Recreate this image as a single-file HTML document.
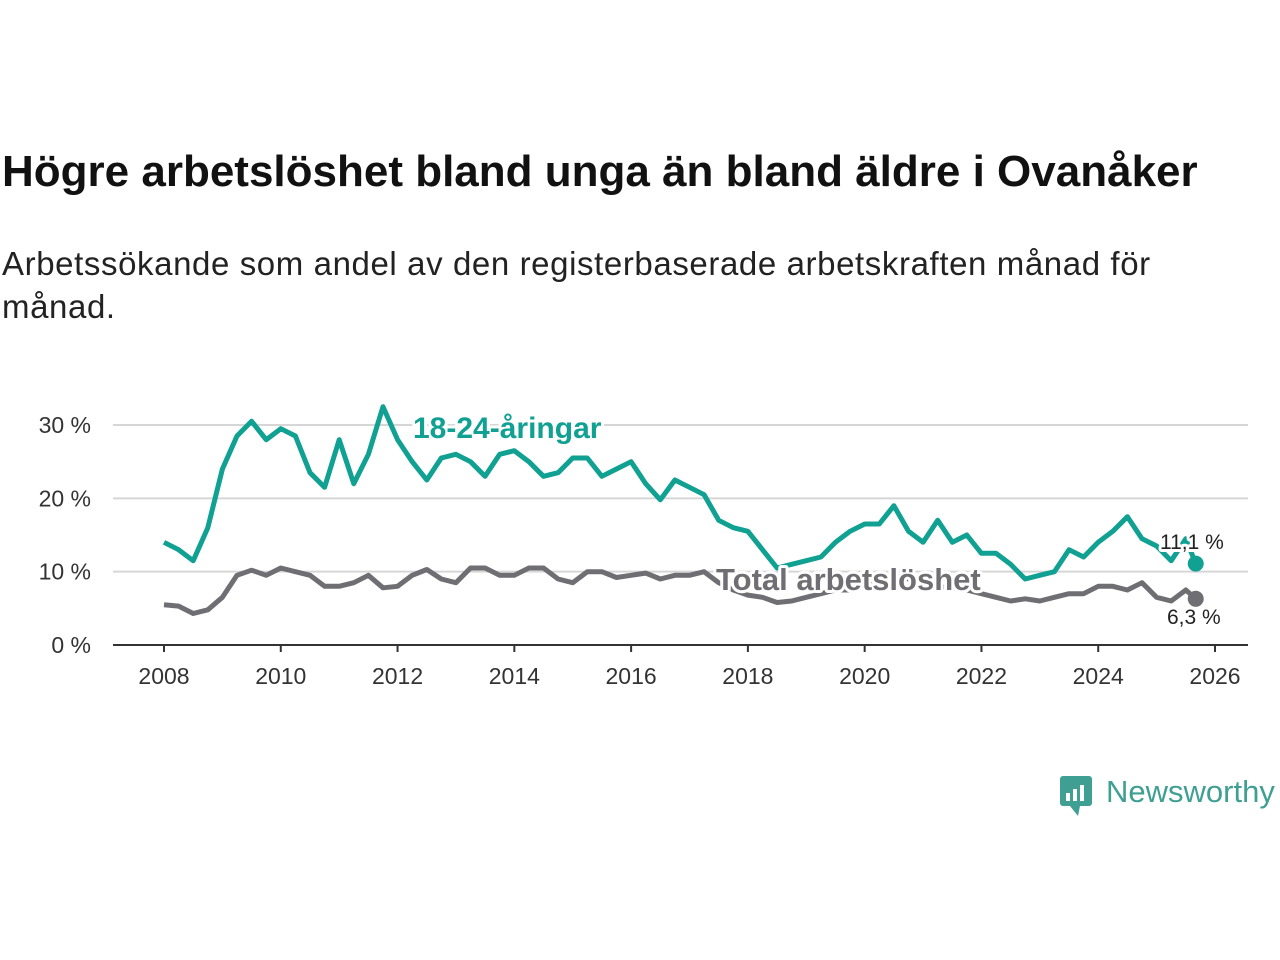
<!DOCTYPE html>
<html><head><meta charset="utf-8"><style>
body{margin:0;background:#fff;font-family:"Liberation Sans","DejaVu Sans",sans-serif}
#wrap{position:relative;width:1280px;height:960px}
h1{position:absolute;left:2px;top:147px;margin:0;font-size:44px;font-weight:bold;color:#111;white-space:nowrap}
p{position:absolute;left:2px;top:242px;margin:0;font-size:33px;line-height:43px;color:#222;width:1260px;letter-spacing:0.6px}
</style></head><body><div id="wrap">
<h1>Högre arbetslöshet bland unga än bland äldre i Ovanåker</h1>
<p>Arbetssökande som andel av den registerbaserade arbetskraften månad för<br>månad.</p>
<svg id="chart" width="1280" height="960" style="position:absolute;left:0;top:0"></svg>
</div>
<script>
const times=[];for(let i=0;i<71;i++)times.push(2008+i*0.25);times.push(2025.67);
const youth=[14,13,11.5,16,24,28.5,30.5,28,29.5,28.5,23.5,21.5,28,22,26,32.5,28,25,22.5,25.5,26,25,23,26,26.5,25,23,23.5,25.5,25.5,23,24,25,22,19.8,22.5,21.5,20.5,17,16,15.5,13,10.5,11,11.5,12,14,15.5,16.5,16.5,19,15.5,14,17,14,15,12.5,12.5,11,9,9.5,10,13,12,14,15.5,17.5,14.5,13.5,11.5,14.5,11.1];
const total=[5.5,5.3,4.3,4.8,6.5,9.5,10.2,9.5,10.5,10,9.5,8,8,8.5,9.5,7.8,8,9.5,10.3,9,8.5,10.5,10.5,9.5,9.5,10.5,10.5,9,8.5,10,10,9.2,9.5,9.8,9,9.5,9.5,10,8.5,7.5,6.8,6.5,5.8,6,6.5,7,7.5,7.5,8,9,9.5,9,8.5,8,7.8,7.5,7,6.5,6,6.3,6,6.5,7,7,8,8,7.5,8.5,6.5,6,7.5,6.3];
const yTicks=[0,10,20,30];
const xTicks=[2008,2010,2012,2014,2016,2018,2020,2022,2024,2026];
const X=t=>164+(t-2008)*(1051/18);
const Y=v=>645-v*(220/30);
const svg=document.getElementById('chart');
const NS='http://www.w3.org/2000/svg';
function mk(tag,attrs,txt){const e=document.createElementNS(NS,tag);for(const k in attrs)e.setAttribute(k,attrs[k]);if(txt!=null)e.textContent=txt;svg.appendChild(e);return e;}
yTicks.forEach(v=>{
 if(v>0){const g=mk('line',{x1:113,x2:1248,y1:Y(v),y2:Y(v),stroke:'#d6d6d6','stroke-width':2});
 
 }
 const t=mk('text',{x:91,y:Y(v)+8,'text-anchor':'end','font-size':23,fill:'#333'},v+' %');
 
 
});
const ax=mk('line',{x1:113,x2:1248,y1:645,y2:645,stroke:'#333','stroke-width':2});


xTicks.forEach(y=>{
 const l=mk('line',{x1:X(y),x2:X(y),y1:645,y2:652,stroke:'#333','stroke-width':2});
 
 
 const t=mk('text',{x:X(y),y:684,'text-anchor':'middle','font-size':23,fill:'#333'},y);
 
 
});
function line(data,col,name){
 const d=data.map((v,i)=>(i?'L':'M')+X(times[i]).toFixed(1)+','+Y(v).toFixed(1)).join('');
 const p=mk('path',{d:d,fill:'none',stroke:col,'stroke-width':5,'stroke-linejoin':'round'});
 
 
 const n=data.length-1;
 const c=mk('circle',{cx:X(times[n]),cy:Y(data[n]),r:8,fill:col});
 
 
}
line(total,'#6f6e73','total-line');
line(youth,'#10a193','youth-line');
function lab(x,y,txt,col,size,w,name){
 const t=mk('text',{x:x,y:y,'font-size':size,'font-weight':w,fill:col,stroke:'#fff','stroke-width':6,'paint-order':'stroke','stroke-linejoin':'round'},txt);
 
 
}
lab(413,438,'18-24-åringar','#10a193',30,'bold','youth-series-label');
lab(716,590,'Total arbetslöshet','#6f6e73',31,'bold','total-series-label');
lab(1160,549,'11,1 %','#222',21,'normal','youth-end-value');
lab(1167,624,'6,3 %','#222',21,'normal','total-end-value');
const lg=mk('rect',{x:1060,y:776,width:32,height:30,rx:3,fill:'#3f9f93'});


const tail=mk('path',{d:'M1070,806 L1078,816 L1080,806Z',fill:'#3f9f93'});


[[1066,8],[1073,12],[1080,16]].forEach(b=>{const r=mk('rect',{x:b[0],y:801-b[1],width:4,height:b[1],fill:'#fff'});});
const lt=mk('text',{x:1106,y:802,'font-size':31,fill:'#3f9f93'},'Newsworthy');


</script></body></html>
